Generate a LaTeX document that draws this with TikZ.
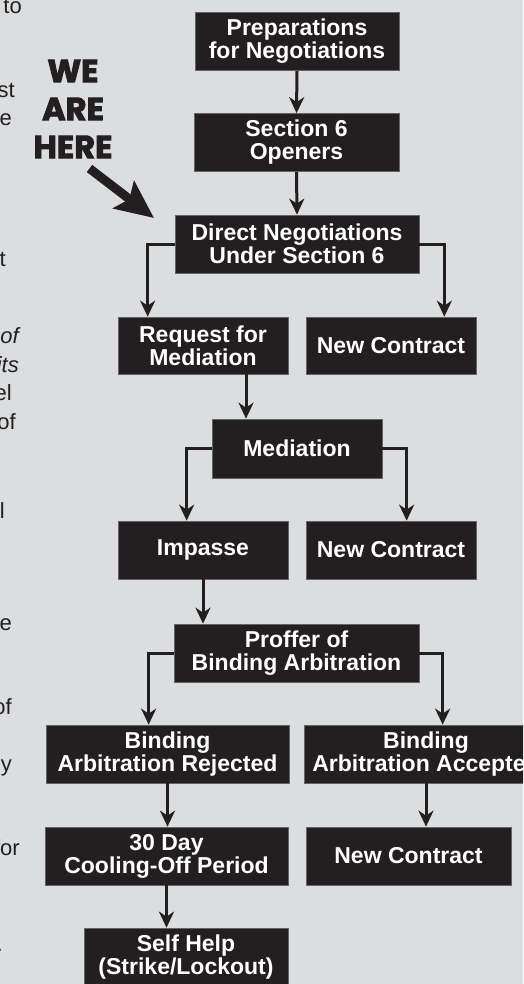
\documentclass[tikz,border=0pt]{standalone}
\usepackage{fontspec}
\setmainfont{Liberation Sans}
\newfontfamily\wefont{Poppins}[BoldFeatures={FakeBold=3}]
\usetikzlibrary{arrows.meta}
\definecolor{bg}{RGB}{220,221,223}
\definecolor{ink}{RGB}{35,31,32}
\definecolor{edge}{RGB}{100,100,102}
\begin{document}
\begin{tikzpicture}[x=1pt,y=-1pt,
  box/.style={fill=ink, draw=edge, line width=0.7pt, text=white,
    font=\fontsize{23}{23}\selectfont\bfseries, align=center, inner sep=0pt,
    minimum height=58pt},
  arr/.style={draw=ink, line width=3pt, -{Stealth[length=16pt,width=15pt,inset=5pt]}},
  side/.style={text=ink, font=\fontsize{22}{23}\selectfont, anchor=base east, inner sep=0pt}]
\useasboundingbox[fill=bg] (0,0) rectangle (523,984);
\clip (0,0) rectangle (523,984);

% side text fragments
\node[side] (f1) at (22,14) {to};
\node[side] (f2) at (15,98) {st};
\node[side] (f3) at (12,126) {e};
\node[side] (f4) at (6,266) {t};
\node[side,font=\fontsize{22}{23}\selectfont\itshape] (f5) at (19,343) {of};
\node[side,font=\fontsize{22}{23}\selectfont\itshape] (f6) at (19,372) {its};
\node[side] (f7) at (12,400) {el};
\node[side] (f8) at (16,429) {of};
\node[side] (f9) at (5,518) {l};
\node[side] (f10) at (12,630) {e};
\node[side] (f11) at (12,714) {of};
\node[side] (f12) at (12,771) {y};
\node[side] (f13) at (20,855) {for};
\node[side] (f14) at (3,951) {.};

% WE ARE HERE
\node[font=\wefont\bfseries\fontsize{32}{38}\selectfont, align=center, text=ink, inner sep=0pt] (here) at (73,109) {WE\\ARE\\HERE};
\coordinate (wtail) at (89.5,168.5);
\coordinate (wtip) at (154,218);
\draw[ink, line width=9pt, -{Stealth[length=38pt,width=34pt,inset=7pt]}] (wtail) -- (wtip);

% boxes
\node[box, minimum width=204pt] (prep) at (297,41.5) {Preparations\\for Negotiations};
\node[box, minimum width=205pt] (s6) at (296.5,142.5) {Section 6\\Openers};
\node[box, minimum width=244pt] (direct) at (297,244) {Direct Negotiations\\Under Section 6};
\node[box, minimum width=170pt, minimum height=57pt] (req) at (203,345.5) {Request for\\Mediation};
\node[box, minimum width=170pt, minimum height=57pt] (nc1) at (391,345.5) {New Contract};
\node[box, minimum width=170pt, minimum height=59pt] (med) at (297,448.5) {Mediation};
\node[box, minimum width=170pt] (imp) at (203,550) {Impasse};
\node[box, minimum width=170pt] (nc2) at (391,550) {New Contract};
\node[box, minimum width=245pt] (prof) at (296.5,653) {Proffer of\\Binding Arbitration};
\node[box, minimum width=243pt] (rej) at (167.5,754) {Binding\\Arbitration Rejected};
\node[box, minimum width=244pt] (acc) at (426,754) {Binding\\Arbitration Accepted};
\node[box, minimum width=243pt] (cool) at (166.5,856) {30 Day\\Cooling-Off Period};
\node[box, minimum width=205pt] (nc3) at (408.5,856) {New Contract};
\node[box, minimum width=204pt] (self) at (186,957) {Self Help\\(Strike/Lockout)};

% connectors
\draw[arr] (prep.south) -- (s6.north);
\draw[arr] (s6.south) -- (direct.north);
\draw[arr] (direct.west) -| ([xshift=30pt]req.north west);
\draw[arr] (direct.east) -| ([xshift=-32pt]nc1.north east);
\draw[arr] ([xshift=43pt]req.south) -- ([xshift=43pt]req.south |- med.north);
\draw[arr] (med.west) -| ([xshift=69pt]imp.north west);
\draw[arr] (med.east) -| ([xshift=101pt]nc2.north west);
\draw[arr] (imp.south) -- (imp.south |- prof.north);
\draw[arr] (prof.west) -| ([xshift=103pt]rej.north west);
\draw[arr] (prof.east) -| ([xshift=139pt]acc.north west);
\draw[arr] (rej.south) -- (rej.south |- cool.north);
\draw[arr] (acc.south) -- (acc.south |- nc3.north);
\draw[arr] (cool.south) -- (cool.south |- self.north);
\end{tikzpicture}
\end{document}
